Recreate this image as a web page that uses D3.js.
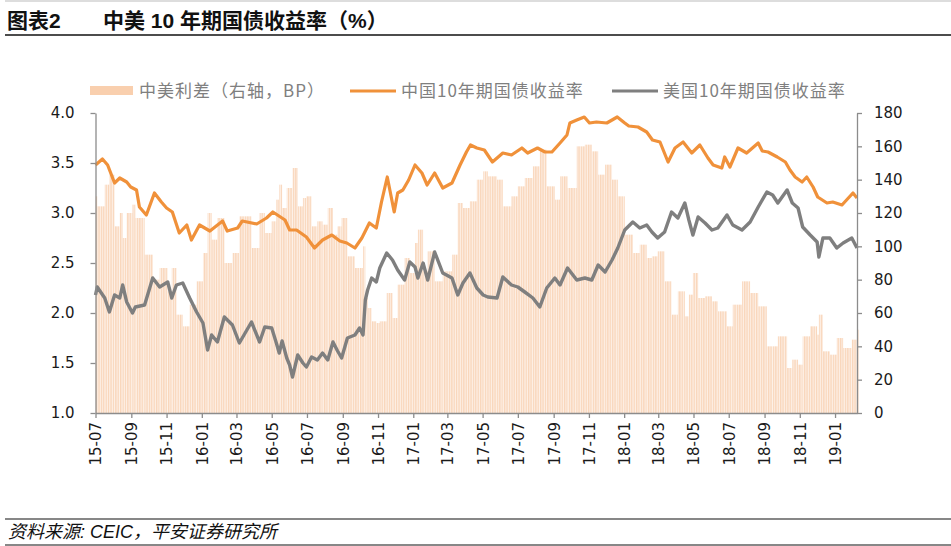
<!DOCTYPE html>
<html><head><meta charset="utf-8">
<script src="https://cdn.jsdelivr.net/npm/d3@7/dist/d3.min.js"></script>
<style>body{margin:0;background:#fff}svg{display:block}</style>
</head><body><svg id="c" width="951" height="546"></svg>
<script>
// ---------- data ----------
const chinaDates = ["2015-07-01","2015-07-13","2015-07-22","2015-08-03","2015-08-12","2015-08-24","2015-08-31","2015-09-10","2015-09-15","2015-09-27","2015-10-11","2015-10-23","2015-11-01","2015-11-11","2015-11-23","2015-12-06","2015-12-14","2015-12-28","2016-01-03","2016-01-15","2016-02-06","2016-02-14","2016-03-03","2016-03-11","2016-04-05","2016-04-22","2016-05-03","2016-05-24","2016-06-01","2016-06-13","2016-06-30","2016-07-14","2016-07-28","2016-08-13","2016-08-27","2016-09-08","2016-09-22","2016-10-04","2016-10-17","2016-10-29","2016-11-07","2016-11-17","2016-11-29","2016-12-05","2016-12-14","2016-12-24","2017-01-04","2017-01-16","2017-01-25","2017-02-07","2017-02-21","2017-03-09","2017-03-23","2017-04-03","2017-04-10","2017-04-21","2017-05-04","2017-05-18","2017-06-05","2017-06-20","2017-07-08","2017-07-18","2017-08-04","2017-08-17","2017-08-29","2017-09-12","2017-09-24","2017-09-29","2017-10-11","2017-10-24","2017-11-02","2017-11-14","2017-12-02","2017-12-20","2018-01-02","2018-01-09","2018-01-25","2018-02-09","2018-02-19","2018-03-04","2018-03-18","2018-03-30","2018-04-13","2018-04-28","2018-05-12","2018-05-26","2018-06-04","2018-06-19","2018-06-24","2018-07-03","2018-07-17","2018-08-01","2018-08-21","2018-08-28","2018-09-07","2018-09-23","2018-10-07","2018-10-15","2018-10-24","2018-11-05","2018-11-13","2018-11-24","2018-12-02","2018-12-18","2018-12-28","2019-01-13","2019-02-01","2019-02-08"];
const chinaYield = [3.48,3.54,3.48,3.30,3.35,3.31,3.26,3.23,3.06,2.98,3.20,3.11,3.05,3.01,2.80,2.88,2.73,2.88,2.86,2.82,2.92,2.82,2.85,2.92,2.89,2.95,3.01,2.93,2.83,2.83,2.76,2.65,2.73,2.78,2.72,2.70,2.65,2.75,2.90,2.85,3.11,3.36,3.01,3.20,3.23,3.33,3.48,3.40,3.28,3.40,3.25,3.30,3.48,3.61,3.68,3.65,3.63,3.51,3.60,3.58,3.65,3.60,3.65,3.61,3.61,3.70,3.78,3.90,3.93,3.96,3.90,3.91,3.90,3.96,3.90,3.87,3.86,3.81,3.73,3.71,3.51,3.65,3.71,3.60,3.68,3.55,3.48,3.45,3.56,3.46,3.65,3.60,3.70,3.62,3.61,3.56,3.51,3.43,3.36,3.31,3.36,3.26,3.16,3.10,3.11,3.08,3.20,3.15];

const usDates = ["2015-07-01","2015-07-04","2015-07-17","2015-07-25","2015-08-03","2015-08-12","2015-08-17","2015-08-24","2015-09-03","2015-09-08","2015-09-24","2015-10-08","2015-10-20","2015-11-03","2015-11-10","2015-11-18","2015-11-29","2015-12-11","2015-12-23","2016-01-03","2016-01-11","2016-01-18","2016-01-28","2016-02-09","2016-02-23","2016-03-06","2016-03-27","2016-04-10","2016-04-19","2016-05-01","2016-05-09","2016-05-14","2016-05-19","2016-05-27","2016-06-01","2016-06-06","2016-06-15","2016-06-24","2016-06-30","2016-07-09","2016-07-19","2016-07-28","2016-08-06","2016-08-15","2016-08-23","2016-08-30","2016-09-09","2016-09-22","2016-09-30","2016-10-06","2016-10-10","2016-10-14","2016-10-21","2016-10-29","2016-11-04","2016-11-16","2016-11-26","2016-12-05","2016-12-17","2016-12-26","2017-01-04","2017-01-09","2017-01-18","2017-01-26","2017-02-07","2017-02-21","2017-03-09","2017-03-19","2017-03-28","2017-04-09","2017-04-21","2017-05-02","2017-05-10","2017-05-26","2017-06-05","2017-06-20","2017-07-01","2017-07-13","2017-07-27","2017-08-08","2017-08-20","2017-09-03","2017-09-12","2017-09-25","2017-10-11","2017-10-25","2017-11-06","2017-11-17","2017-11-29","2017-12-11","2017-12-21","2018-01-02","2018-01-16","2018-01-28","2018-02-09","2018-02-18","2018-02-28","2018-03-12","2018-03-24","2018-04-04","2018-04-16","2018-04-23","2018-04-30","2018-05-09","2018-05-21","2018-06-02","2018-06-12","2018-06-28","2018-07-08","2018-07-24","2018-08-07","2018-08-21","2018-09-05","2018-09-15","2018-09-24","2018-10-10","2018-10-19","2018-10-29","2018-11-06","2018-11-19","2018-12-01","2018-12-04","2018-12-11","2018-12-23","2019-01-04","2019-01-15","2019-01-30","2019-02-08"];
const usYield = [2.18,2.26,2.15,2.01,2.18,2.15,2.28,2.11,2.00,2.06,2.08,2.35,2.26,2.31,2.15,2.28,2.30,2.15,2.01,1.90,1.63,1.78,1.71,1.96,1.88,1.70,1.91,1.71,1.86,1.85,1.70,1.60,1.72,1.55,1.48,1.36,1.58,1.50,1.46,1.56,1.53,1.60,1.53,1.71,1.62,1.55,1.75,1.78,1.85,1.78,2.13,2.23,2.35,2.31,2.45,2.60,2.53,2.43,2.33,2.51,2.46,2.35,2.50,2.33,2.61,2.40,2.35,2.18,2.30,2.40,2.25,2.18,2.16,2.15,2.36,2.28,2.26,2.21,2.15,2.06,2.25,2.35,2.28,2.45,2.33,2.35,2.33,2.48,2.41,2.53,2.65,2.83,2.91,2.85,2.88,2.81,2.75,2.81,3.01,2.95,3.10,2.93,2.78,2.96,2.90,2.83,2.85,2.98,2.88,2.83,2.91,3.06,3.21,3.18,3.10,3.23,3.10,3.05,2.86,2.78,2.71,2.56,2.75,2.75,2.65,2.70,2.75,2.65];

// spread bars (bp, right axis), sampled on the same dates as the US series
const spreadDates = usDates;
const spreadBP = [130,124,137,143,112,120,105,120,125,117,95,80,87,73,87,59,52,65,79,96,120,104,117,90,96,118,99,120,108,115,128,137,123,135,135,147,124,129,130,112,115,113,123,107,112,117,94,87,87,100,69,63,55,54,55,72,57,77,93,84,102,110,85,97,79,85,95,126,123,127,140,145,142,140,124,130,136,141,148,158,136,128,142,135,160,161,157,143,149,140,130,107,96,101,93,94,97,79,59,73,58,71,84,69,70,67,61,52,65,79,72,64,40,40,46,27,32,29,46,52,47,59,37,35,45,39,44,50];

const leftTicks = [1.0,1.5,2.0,2.5,3.0,3.5,4.0];
const rightTicks = [0,20,40,60,80,100,120,140,160,180];
const xTickStart = "2015-07-01", xTickEnd = "2019-01-01", xDomainEnd = "2019-02-08";

const titleLeft = "图表2";
const titleMain = "中美 10 年期国债收益率（%）";
const legendNames = ["中美利差（右轴，BP）","中国10年期国债收益率","美国10年期国债收益率"];
const sourceText = "资料来源: CEIC，平安证券研究所";

// ---------- drawing ----------
const parse = d3.timeParse("%Y-%m-%d");
const svg = d3.select("#c");
const L = 95.5, R = 857, T = 113, B = 413;
const x = d3.scaleTime().domain([parse(xTickStart), parse(xDomainEnd)]).range([L, R]);
const yL = d3.scaleLinear().domain([1, 4]).range([B, T]);
const yR = d3.scaleLinear().domain([0, 180]).range([B, T]);

const ORANGE = "#f0913a", GRAY = "#7f7f7f", AXIS = "#8c8c8c";
const numFont = "'DejaVu Sans', sans-serif";
const cjkFont = "'Noto Sans CJK SC', sans-serif";

// fine vertical stripe texture for the (daily) spread bars
const defs = svg.append("defs");
const pat = defs.append("pattern").attr("id","stripes").attr("patternUnits","userSpaceOnUse")
  .attr("width",2.4).attr("height",10);
pat.append("rect").attr("width",2.4).attr("height",10).attr("fill","#fdf0e6");
pat.append("rect").attr("width",1.3).attr("height",10).attr("fill","#f9d6ba");

// title and rules
svg.append("line").attr("x1",5).attr("x2",951).attr("y1",1).attr("y2",1).attr("stroke","#bbb").attr("stroke-width",1);
svg.append("text").attr("x",7).attr("y",28).text(titleLeft)
  .attr("font-family","'Liberation Sans','Noto Sans CJK SC',sans-serif").attr("font-weight","bold").attr("font-size",21).attr("fill","#111");
svg.append("text").attr("x",103).attr("y",28).text(titleMain)
  .attr("font-family","'Liberation Sans','Noto Sans CJK SC',sans-serif").attr("font-weight","bold").attr("font-size",21).attr("fill","#111");
svg.append("line").attr("x1",5).attr("x2",951).attr("y1",35).attr("y2",35).attr("stroke","#111").attr("stroke-width",1.5);

// bars
const bars = spreadDates.map((d,i)=>({d:parse(d), v:spreadBP[i]}));
svg.append("g").selectAll("rect").data(bars.map((b,i)=>{
    const nx = i < bars.length-1 ? x(bars[i+1].d) : x(b.d)+2;
    return {x0:x(b.d), w:Math.max(1, nx - x(b.d)), v:b.v};
  }))
  .join("rect")
  .attr("x", d=>d.x0).attr("width", d=>d.w)
  .attr("y", d=>yR(d.v)).attr("height", d=>yR(0)-yR(d.v))
  .attr("fill", "url(#stripes)");

// lines
function drawLine(dates, vals, color, w){
  const pts = dates.map((d,i)=>({d:parse(d), v:vals[i]}));
  const line = d3.line().x(p=>x(p.d)).y(p=>yL(p.v));
  svg.append("path").datum(pts).attr("d", line).attr("fill","none")
    .attr("stroke", color).attr("stroke-width", w).attr("stroke-linejoin","round");
}
drawLine(chinaDates, chinaYield, ORANGE, 3.2);
drawLine(usDates, usYield, GRAY, 3.4);

// axes
function styleAxis(g){
  g.selectAll(".domain").attr("stroke", AXIS).attr("stroke-width",1.3);
  g.selectAll(".tick line").attr("stroke", AXIS).attr("stroke-width",1.3);
  g.selectAll(".tick text").attr("fill","#1a1a1a").attr("font-family",numFont);
}
const gL = svg.append("g").attr("transform",`translate(${L},0)`)
  .call(d3.axisLeft(yL).tickValues(leftTicks).tickFormat(d3.format(".1f")).tickSize(5).tickSizeOuter(0).tickPadding(16));
gL.selectAll("text").attr("font-size",15);
styleAxis(gL);

const gR = svg.append("g").attr("transform",`translate(${R},0)`)
  .call(d3.axisRight(yR).tickValues(rightTicks).tickSize(5).tickSizeOuter(0).tickPadding(12));
gR.selectAll("text").attr("font-size",15);
styleAxis(gR);

const xTicks = d3.timeMonth.every(2).range(parse(xTickStart), d3.timeDay.offset(parse(xTickEnd),1));
const gX = svg.append("g").attr("transform",`translate(0,${B})`)
  .call(d3.axisBottom(x).tickValues(xTicks).tickFormat(d3.timeFormat("%y-%m")).tickSize(5).tickSizeOuter(0));
gX.selectAll(".tick text").attr("transform","rotate(-90)").attr("text-anchor","end")
  .attr("x",-9).attr("y",0).attr("dy","0.36em").attr("font-size",15);
styleAxis(gX);

// legend
const lg = svg.append("g").attr("font-family",cjkFont).attr("font-size",17).attr("fill","#7f7f7f");
lg.append("rect").attr("x",90).attr("y",86).attr("width",43).attr("height",9).attr("fill","#f9cfae");
lg.append("text").attr("x",139).attr("y",97).attr("letter-spacing",1).text(legendNames[0]);
lg.append("line").attr("x1",350).attr("x2",396).attr("y1",91).attr("y2",91).attr("stroke",ORANGE).attr("stroke-width",3);
lg.append("text").attr("x",401).attr("y",97).attr("letter-spacing",1).text(legendNames[1]);
lg.append("line").attr("x1",612).attr("x2",658).attr("y1",91).attr("y2",91).attr("stroke",GRAY).attr("stroke-width",3);
lg.append("text").attr("x",663).attr("y",97).attr("letter-spacing",1).text(legendNames[2]);

// footer
svg.append("line").attr("x1",5).attr("x2",951).attr("y1",519).attr("y2",519).attr("stroke","#111").attr("stroke-width",1.2);
svg.append("text").attr("x",8).attr("y",538).text(sourceText)
  .attr("font-family","'Liberation Sans','Noto Sans CJK SC',sans-serif").attr("font-style","italic").attr("font-size",18).attr("fill","#111");
svg.append("line").attr("x1",5).attr("x2",951).attr("y1",545).attr("y2",545).attr("stroke","#111").attr("stroke-width",1.2);
</script></body></html>
